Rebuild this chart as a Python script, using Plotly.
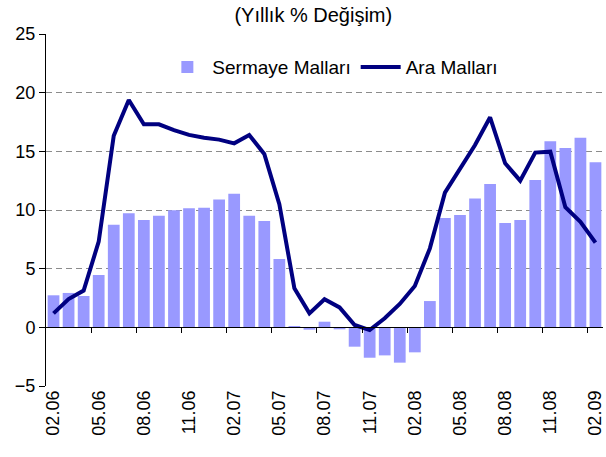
import plotly.graph_objects as go

months = ["02.06", "03.06", "04.06", "05.06", "06.06", "07.06", "08.06", "09.06",
          "10.06", "11.06", "12.06", "01.07", "02.07", "03.07", "04.07", "05.07",
          "06.07", "07.07", "08.07", "09.07", "10.07", "11.07", "12.07", "01.08",
          "02.08", "03.08", "04.08", "05.08", "06.08", "07.08", "08.08", "09.08",
          "10.08", "11.08", "12.08", "01.09", "02.09"]

sermaye = [2.73, 2.93, 2.67, 4.46, 8.75, 9.72, 9.15, 9.52, 9.97, 10.14, 10.2, 10.9,
           11.39, 9.52, 9.06, 5.82, 0.1, -0.2, 0.48, -0.17, -1.65, -2.59, -2.39, -3.01,
           -2.13, 2.24, 9.32, 9.57, 10.97, 12.22, 8.89, 9.15, 12.56, 15.85, 15.28, 16.16,
           14.06]

ara = [1.19, 2.41, 3.13, 7.3, 16.33, 19.38, 17.3, 17.3, 16.8, 16.4, 16.16, 16.0,
       15.68, 16.39, 14.77, 10.5, 3.32, 1.19, 2.39, 1.7, 0.2, -0.23, 0.77, 1.99,
       3.52, 6.73, 11.48, 13.47, 15.54, 17.9, 13.98, 12.5, 14.89, 14.97, 10.23, 9.0,
       7.22]

title_text = "(Yıllık % Değişim)"
y_ticks = [-5, 0, 5, 10, 15, 20, 25]

idx = list(range(len(months)))
label_idx = idx[::3]
label_txt = [months[i] for i in label_idx]
boundary_ticks = [i - 0.5 for i in idx[3::3]]

FONT = "Arial, 'Liberation Sans', sans-serif"

fig = go.Figure()
fig.add_trace(go.Bar(x=idx, y=sermaye, name="Sermaye Malları",
                     marker=dict(color="#9999FF", line=dict(width=0))))
fig.add_trace(go.Scatter(x=idx, y=ara, name="Ara Malları", mode="lines",
                         line=dict(color="#000080", width=4)))
fig.add_trace(go.Scatter(x=[], y=[], xaxis="x2", showlegend=False, hoverinfo="skip"))

fig.update_layout(
    width=606, height=457,
    margin=dict(l=46, r=3, t=34, b=71, autoexpand=False),
    paper_bgcolor="white", plot_bgcolor="white",
    font=dict(family=FONT, size=18, color="black"),
    bargap=0.22,
    showlegend=True,
    title=dict(text=title_text, x=0.517, xref="container", xanchor="center",
               y=1 - 15 / 457, yref="container", yanchor="middle",
               font=dict(size=20, family=FONT, color="black")),
    legend=dict(orientation="h", x=0.515, xanchor="center", y=0.906, yanchor="middle",
                bgcolor="rgba(0,0,0,0)", font=dict(size=19), itemwidth=40),
    xaxis=dict(range=[-0.5, len(months) - 0.5], tickmode="array", tickvals=label_idx,
               ticktext=label_txt, tickangle=-90, showgrid=False, zeroline=False,
               showline=False, ticks="", tickfont=dict(size=18), automargin=False,
               ticklabeloverflow="allow"),
    xaxis2=dict(overlaying="x", anchor="free", position=5 / 30,
                range=[-0.5, len(months) - 0.5], tickmode="array",
                tickvals=boundary_ticks, showticklabels=False, ticks="outside",
                ticklen=5, tickcolor="black", showline=True, linecolor="black",
                linewidth=1, showgrid=False, zeroline=False),
    yaxis=dict(range=[-5, 25], tickmode="array", tickvals=y_ticks,
               showgrid=True, gridcolor="#8c8c8c", griddash="6px,4px", gridwidth=1,
               zeroline=False, showline=True, linecolor="black", linewidth=1,
               ticks="outside", ticklen=6, tickcolor="black", tickfont=dict(size=18),
               automargin=False),
)

fig.write_html("out.html", config={"displayModeBar": False},
               post_script="document.body.style.margin='0';")
